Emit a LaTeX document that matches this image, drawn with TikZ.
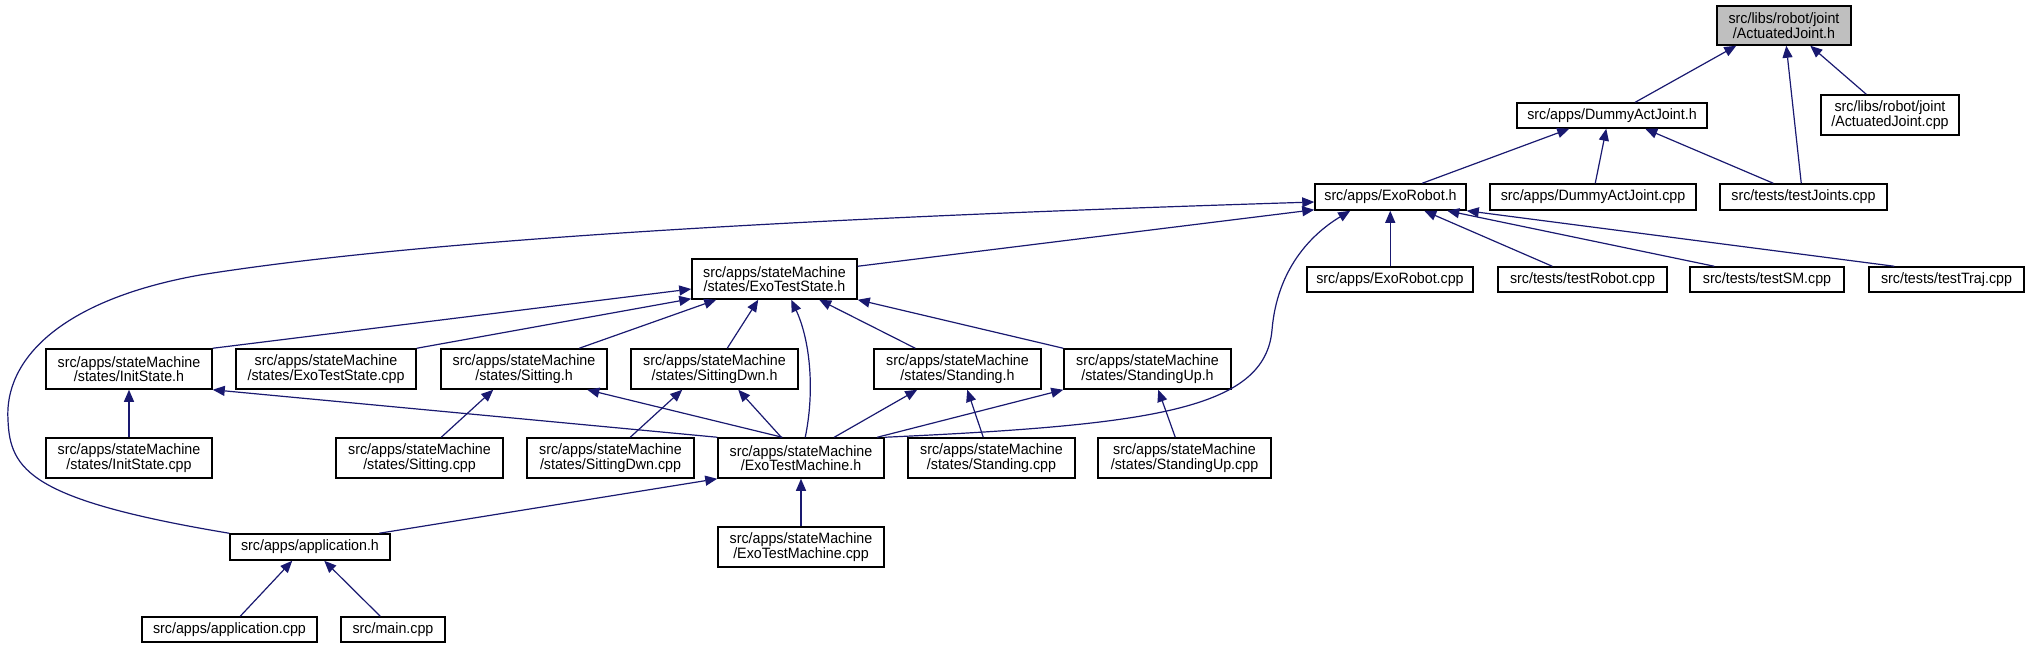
\documentclass[tikz,border=0pt]{standalone}
\usepackage{fontspec}
\setmainfont[FakeStretch=0.95]{Liberation Sans}
\usetikzlibrary{arrows.meta,calc}
\definecolor{navy}{HTML}{191970}
\definecolor{boxgray}{HTML}{BFBFBF}
\tikzset{
  box/.style={draw=black, line width=1.5pt, fill=white, inner sep=0pt, align=center,
    font=\fontsize{15}{14.5}\selectfont, anchor=center},
  edge/.style={draw=navy, line width=1.2pt, -{Triangle[length=12pt,width=10pt]}},
}
\newcommand\gnode[7][]{\node[box,#1,minimum width={#5-#3},minimum height={#6-#4}] (#2) at ({(#3+#5)/2},{(#4+#6)/2}) {#7};}
\begin{document}
\begin{tikzpicture}[x=1pt,y=-1pt]
\useasboundingbox (0,0) rectangle (2029,648);
% nodes
\gnode[fill=boxgray]{AJh}{1717}{6}{1851}{45}{src/libs/robot/joint\\/ActuatedJoint.h}
\gnode{DAJh}{1517}{103}{1707}{128}{src/apps/DummyActJoint.h}
\gnode{AJcpp}{1821}{95}{1959}{135}{src/libs/robot/joint\\/ActuatedJoint.cpp}
\gnode{ERh}{1315}{184}{1466}{210}{src/apps/ExoRobot.h}
\gnode{DAJcpp}{1490}{184}{1696}{210}{src/apps/DummyActJoint.cpp}
\gnode{tJcpp}{1720}{184}{1887}{210}{src/tests/testJoints.cpp}
\gnode{ERcpp}{1307}{267}{1473}{292}{src/apps/ExoRobot.cpp}
\gnode{tRcpp}{1498}{267}{1667}{292}{src/tests/testRobot.cpp}
\gnode{tSMcpp}{1690}{267}{1844}{292}{src/tests/testSM.cpp}
\gnode{tTcpp}{1869}{267}{2024}{292}{src/tests/testTraj.cpp}
\gnode{ETSh}{692}{259}{857}{299}{src/apps/stateMachine\\/states/ExoTestState.h}
\gnode{InitH}{46}{349}{212}{389}{src/apps/stateMachine\\/states/InitState.h}
\gnode{ETScpp}{236}{349}{416}{389}{src/apps/stateMachine\\/states/ExoTestState.cpp}
\gnode{SitH}{441}{349}{607}{389}{src/apps/stateMachine\\/states/Sitting.h}
\gnode{SDH}{631}{349}{798}{389}{src/apps/stateMachine\\/states/SittingDwn.h}
\gnode{StH}{874}{349}{1041}{389}{src/apps/stateMachine\\/states/Standing.h}
\gnode{SUH}{1064}{349}{1231}{389}{src/apps/stateMachine\\/states/StandingUp.h}
\gnode{InitCpp}{46}{438}{212}{478}{src/apps/stateMachine\\/states/InitState.cpp}
\gnode{SitCpp}{336}{438}{503}{478}{src/apps/stateMachine\\/states/Sitting.cpp}
\gnode{SDCpp}{527}{438}{694}{478}{src/apps/stateMachine\\/states/SittingDwn.cpp}
\gnode{ETMh}{718}{438}{884}{478}{src/apps/stateMachine\\/ExoTestMachine.h}
\gnode{StCpp}{908}{438}{1075}{478}{src/apps/stateMachine\\/states/Standing.cpp}
\gnode{SUCpp}{1098}{438}{1271}{478}{src/apps/stateMachine\\/states/StandingUp.cpp}
\gnode{AppH}{230}{534}{390}{560}{src/apps/application.h}
\gnode{ETMcpp}{718}{527}{884}{567}{src/apps/stateMachine\\/ExoTestMachine.cpp}
\gnode{AppCpp}{142}{617}{317}{642}{src/apps/application.cpp}
\gnode{MainCpp}{341}{617}{445}{642}{src/main.cpp}
% edges
\draw[edge] ($(DAJh.north west)+(119,0)$) -- ($(AJh.south west)+(20,0)$);
\draw[edge] ($(tJcpp.north west)+(82,0)$) -- ($(AJh.south west)+(70,0)$);
\draw[edge] ($(AJcpp.north west)+(46,0)$) -- ($(AJh.south west)+(94,0)$);
\draw[edge] ($(ERh.north west)+(108,0)$) -- ($(DAJh.south west)+(53,0)$);
\draw[edge] ($(DAJcpp.north west)+(106,0)$) -- ($(DAJh.south west)+(90,0)$);
\draw[edge] ($(tJcpp.north west)+(54,0)$) -- ($(DAJh.south west)+(129,0)$);
\draw[edge] (AppH.north west) .. controls (30,500) and (10,470) .. (8,420)
  .. controls (4,360) and (60,300) .. (200,275)
  .. controls (450,235) and (900,215) .. ($(ERh.west)+(0,5)$);
\draw[edge] ($(ETSh.north east)+(0,8)$) -- ($(ERh.south west)+(0,-1)$);
\draw[edge] (ETMh.north east) .. controls (1150,425) and (1265,410) .. (1272,330)
  .. controls (1277,270) and (1310,235) .. ($(ERh.south west)+(36,0)$);
\draw[edge] ($(ERcpp.north west)+(84,0)$) -- ($(ERh.south west)+(76,0)$);
\draw[edge] ($(tRcpp.north west)+(55,0)$) -- ($(ERh.south west)+(110,0)$);
\draw[edge] ($(tSMcpp.north west)+(25,0)$) -- ($(ERh.south west)+(133,0)$);
\draw[edge] ($(tTcpp.north west)+(26,0)$) -- (ERh.south east);
\draw[edge] (InitH.north east) -- ($(ETSh.west)+(0,10)$);
\draw[edge] (ETScpp.north east) -- ($(ETSh.south west)+(0,-1)$);
\draw[edge] ($(SitH.north west)+(139,0)$) -- ($(ETSh.south west)+(25,0)$);
\draw[edge] ($(SDH.north west)+(97,0)$) -- ($(ETSh.south west)+(67,0)$);
\draw[edge] ($(ETMh.north west)+(88,0)$) .. controls (815,390) and (810,340) .. ($(ETSh.south west)+(100,0)$);
\draw[edge] ($(StH.north west)+(42,0)$) -- ($(ETSh.south west)+(128,0)$);
\draw[edge] (SUH.north west) -- (ETSh.south east);
\draw[edge] (InitCpp.north) -- (InitH.south);
\draw[edge] (ETMh.north west) -- (InitH.south east);
\draw[edge] ($(SitCpp.north west)+(106,0)$) -- ($(SitH.south west)+(53,0)$);
\draw[edge] ($(ETMh.north west)+(65,0)$) -- ($(SitH.south west)+(147,0)$);
\draw[edge] ($(SDCpp.north west)+(104,0)$) -- ($(SDH.south west)+(52,0)$);
\draw[edge] ($(ETMh.north west)+(64,0)$) -- ($(SDH.south west)+(108,0)$);
\draw[edge] ($(ETMh.north west)+(117,0)$) -- ($(StH.south west)+(44,0)$);
\draw[edge] ($(StCpp.north west)+(76,0)$) -- ($(StH.south west)+(94,0)$);
\draw[edge] ($(ETMh.north west)+(160,0)$) -- (SUH.south west);
\draw[edge] ($(SUCpp.north west)+(78,0)$) -- ($(SUH.south west)+(95,0)$);
\draw[edge] ($(AppH.north west)+(150,0)$) -- (ETMh.south west);
\draw[edge] (ETMcpp.north) -- (ETMh.south);
\draw[edge] ($(AppCpp.north west)+(99,0)$) -- ($(AppH.south west)+(63,0)$);
\draw[edge] ($(MainCpp.north west)+(40,0)$) -- ($(AppH.south west)+(95,0)$);
\end{tikzpicture}
\end{document}
